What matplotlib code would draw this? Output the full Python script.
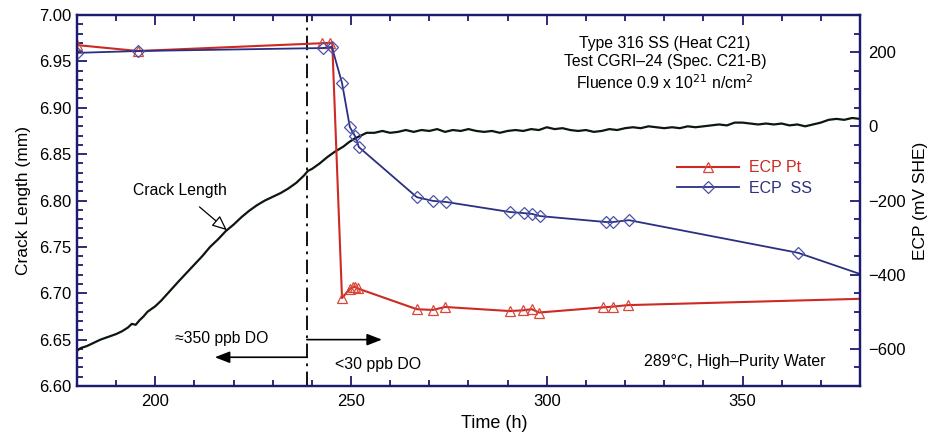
import matplotlib
matplotlib.use("Agg")
import matplotlib.pyplot as plt
from matplotlib.ticker import MultipleLocator

plt.rcParams["font.family"] = ["Liberation Sans", "DejaVu Sans"]

# Crack length record (mm) vs time (h)
crack_t = [180, 181, 182.5, 184, 186, 188, 190, 191.5, 193, 194, 195, 196, 197, 198,
           200, 201.5, 203, 204.5, 206, 208, 210, 212, 214, 216, 218, 220, 222, 224,
           226, 228, 230, 232, 234, 236, 238, 239, 240, 242, 244, 246, 248, 249.5,
           251, 252.5, 254, 256, 258, 260, 262, 264, 266, 268, 270, 272, 274, 276,
           278, 280, 282, 284, 286, 288, 290, 292, 294, 296, 298, 300, 302, 304,
           306, 308, 310, 312, 314, 316, 318, 320, 322, 324, 326, 328, 330, 332,
           334, 336, 338, 340, 342, 344, 346, 348, 350, 352, 354, 356, 358, 360,
           362, 364, 366, 368, 370, 372, 374, 376, 378, 380]
crack_len = [6.638, 6.641, 6.643, 6.646, 6.650, 6.653, 6.656, 6.659, 6.663, 6.667,
             6.666, 6.671, 6.675, 6.680, 6.686, 6.692, 6.699, 6.706, 6.713, 6.722,
             6.731, 6.740, 6.750, 6.758, 6.767, 6.774, 6.782, 6.789, 6.795, 6.800,
             6.804, 6.808, 6.813, 6.819, 6.827, 6.832, 6.834, 6.840, 6.847, 6.853,
             6.858, 6.863, 6.867, 6.870, 6.873, 6.873, 6.875, 6.873, 6.874, 6.876,
             6.874, 6.876, 6.875, 6.877, 6.874, 6.876, 6.875, 6.877, 6.875, 6.874,
             6.875, 6.873, 6.875, 6.876, 6.875, 6.877, 6.876, 6.879, 6.877, 6.878,
             6.876, 6.875, 6.876, 6.874, 6.875, 6.877, 6.876, 6.878, 6.879, 6.878,
             6.880, 6.879, 6.878, 6.879, 6.878, 6.880, 6.879, 6.880, 6.881, 6.882,
             6.881, 6.884, 6.884, 6.883, 6.882, 6.883, 6.882, 6.883, 6.881, 6.882,
             6.880, 6.882, 6.884, 6.887, 6.888, 6.887, 6.889, 6.888]

# ECP of the Pt electrode (mV SHE)
pt_t = [180, 195.6, 242.6, 244.6, 245.2, 247.7, 249.7, 250.4, 251.0, 251.7,
        266.8, 270.9, 274.0, 290.6, 293.9, 296.2, 298.0, 314.4, 316.9, 320.7, 380]
pt_ecp = [219, 203, 224, 225, 225, -463, -438, -434, -433, -437,
          -493, -495, -487, -498, -496, -493, -502, -488, -486, -482, -465]
pt_marks = [0, 1, 2, 3, 5, 6, 7, 8, 9, 10, 11, 12, 13, 14, 15, 16, 17, 18, 19]

# ECP of the stainless steel electrode (mV SHE)
ss_t = [180, 195.6, 242.8, 245.1, 247.7, 249.7, 251.0, 252.0, 266.8, 270.9, 274.3,
        290.6, 294.2, 296.2, 298.3, 315.1, 316.9, 321.0, 364.2, 380]
ss_ecp = [198, 203, 211, 214, 117, -2, -26, -56, -191, -201, -204,
          -231, -234, -236, -242, -258, -258, -253, -341, -398]
ss_marks = list(range(len(ss_t) - 1))

t_switch = 238.7  # water chemistry change

navy = "#1c1c6e"
red = "#cc2a22"
blue = "#2a2f82"

fig = plt.figure(figsize=(9.32, 4.42), dpi=100)
ax = fig.add_axes([0.0826, 0.1267, 0.8401, 0.8393])
ax2 = ax.twinx()

ax.plot(crack_t, crack_len, color="#0d170d", lw=1.6, zorder=3)
ax.axvline(t_switch, color="black", lw=1.3, ls=(0, (8, 3, 1.5, 3)))

ax2.plot(pt_t, pt_ecp, color=red, lw=1.5, marker="^", ms=7.5, mfc="none",
         mec="#d8473a", mew=0.9, markevery=pt_marks, label="ECP Pt")
ax2.plot(ss_t, ss_ecp, color=blue, lw=1.3, marker="D", ms=6, mfc="none",
         mec="#4a52a8", mew=0.9, markevery=ss_marks, label="ECP  SS")

ax.set_xlim(180, 380)
ax.set_ylim(6.60, 7.00)
ax2.set_ylim(-700, 300)

ax.xaxis.set_major_locator(MultipleLocator(50))
ax.xaxis.set_minor_locator(MultipleLocator(10))
ax.yaxis.set_major_locator(MultipleLocator(0.05))
ax.yaxis.set_minor_locator(MultipleLocator(0.01))
ax2.yaxis.set_major_locator(MultipleLocator(200))
ax2.yaxis.set_minor_locator(MultipleLocator(50))

ax.tick_params(axis="x", which="both", direction="in", top=True, colors=navy,
               labelcolor="black", labelsize=12, pad=6, width=1.3)
ax.tick_params(axis="y", which="both", direction="in", right=False, colors=navy,
               labelcolor="black", labelsize=12, pad=4, width=1.3)
ax2.tick_params(axis="y", which="both", direction="in", colors=navy,
                labelcolor="black", labelsize=12, pad=6, width=1.3)
for a in (ax, ax2):
    a.tick_params(which="major", length=7)
    a.tick_params(which="minor", length=4)
    for sp in a.spines.values():
        sp.set_color(navy)
        sp.set_linewidth(1.6)

ax.yaxis.set_major_formatter(matplotlib.ticker.FormatStrFormatter("%.2f"))

ax.set_xlabel("Time (h)", fontsize=13, x=0.533, labelpad=4)
ax.set_ylabel("Crack Length (mm)", fontsize=12.5, labelpad=6)
ax2.set_ylabel("ECP (mV SHE)", fontsize=12.5, labelpad=5)

# test description
ax.text(0.751, 0.9245, "Type 316 SS (Heat C21)", transform=ax.transAxes,
        ha="center", va="center", fontsize=11.3)
ax.text(0.751, 0.876, "Test CGRI\u201324 (Spec. C21-B)", transform=ax.transAxes,
        ha="center", va="center", fontsize=11.3)
ax.text(0.751, 0.817, "Fluence 0.9 x 10$^{21}$ n/cm$^{2}$", transform=ax.transAxes,
        ha="center", va="center", fontsize=11.3)
ax.text(371.1, 6.626, "289\u00b0C, High\u2013Purity Water", ha="right", va="center",
        fontsize=11.4)

# water chemistry arrows
ax.annotate("", xy=(215.2, 6.631), xytext=(t_switch, 6.631),
            arrowprops=dict(arrowstyle="-|>,head_length=0.9,head_width=0.35",
                            color="black", lw=1.2, shrinkA=0, shrinkB=0))
ax.annotate("", xy=(257.9, 6.650), xytext=(t_switch, 6.650),
            arrowprops=dict(arrowstyle="-|>,head_length=0.9,head_width=0.35",
                            color="black", lw=1.2, shrinkA=0, shrinkB=0))
ax.text(205.0, 6.651, "\u2248350 ppb DO", ha="left", va="center", fontsize=11.3)
ax.text(245.9, 6.623, "<30 ppb DO", ha="left", va="center", fontsize=11.4)

ax.annotate("Crack Length", xy=(218.3, 6.768), xytext=(206.3, 6.811),
            ha="center", va="center", fontsize=11.3,
            arrowprops=dict(arrowstyle="-|>,head_length=0.8,head_width=0.35",
                            fc="white", ec="black", lw=0.9,
                            shrinkA=7, shrinkB=0))

leg = ax2.legend(loc="upper left", bbox_to_anchor=(0.766, 0.608), frameon=False,
                 fontsize=11.5, handlelength=3.9, handletextpad=0.6,
                 labelspacing=0.35, borderpad=0, borderaxespad=0,
                 labelcolor="linecolor")

fig.savefig("out.png", dpi=100)
